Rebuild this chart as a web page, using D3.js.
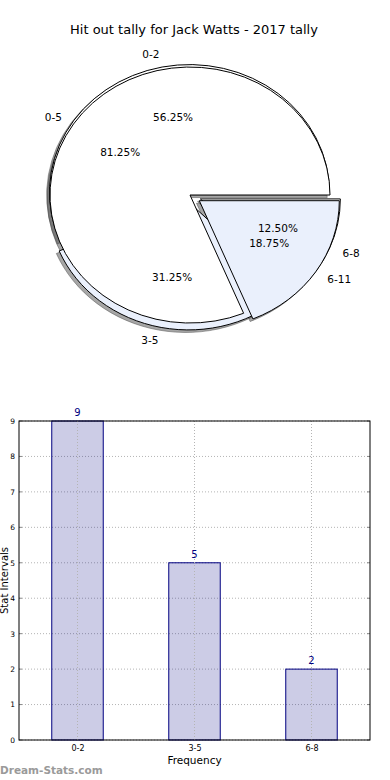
<!DOCTYPE html>
<html>
<head>
<meta charset="utf-8">
<script src="https://cdn.jsdelivr.net/npm/d3@7"></script>
<style>
  html, body { margin: 0; padding: 0; background: #ffffff; }
  svg { display: block; font-family: "DejaVu Sans", sans-serif; }
</style>
</head>
<body>
<svg id="chart"></svg>
<script>
// Data
const pieTitle = "Hit out tally for Jack Watts - 2017 tally";
const innerLabels = ["0-2", "3-5", "6-8"];
const innerValues = [9, 5, 2];
const outerLabels = ["0-5", "6-11"];
const outerValues = [13, 3];

const barCategories = ["0-2", "3-5", "6-8"];
const barValues = [9, 5, 2];
const yTicks = [0, 1, 2, 3, 4, 5, 6, 7, 8, 9];

// Style for the wedges (matplotlib-like explode + colour cycle)
const innerExplode = [0.02, 0.055, 0.08];
const outerExplode = [0, 0.08];
const wedgeColors = ["#ffffff", "#eaf0fc"];

const width = 390;
const height = 780;

const svg = d3.select("#chart")
    .attr("width", width)
    .attr("height", height)
    .attr("viewBox", [0, 0, width, height]);

// ---------- Pie part ----------
const cx = 190, cy = 195, rx = 140, ry = 128;

svg.append("text")
    .attr("x", 194)
    .attr("y", 34)
    .attr("text-anchor", "middle")
    .style("font-size", "13px")
    .text(pieTitle);

function layoutPie(values, labels, explode) {
    const total = d3.sum(values);
    const arcs = d3.pie().sort(null)
        .startAngle(Math.PI / 2)
        .endAngle(Math.PI / 2 - 2 * Math.PI)(values);
    return arcs.map((a, i) => {
        const mid = (a.startAngle + a.endAngle) / 2;
        const e = explode[i];
        return {
            ...a,
            label: labels[i],
            mid: mid,
            ex: Math.sin(mid) * e,     // offset in radius units
            ey: Math.cos(mid) * e,
            pct: a.value / total,
            color: wedgeColors[i % wedgeColors.length]
        };
    });
}

const innerPie = layoutPie(innerValues, innerLabels, innerExplode);
const outerPie = layoutPie(outerValues, outerLabels, outerExplode);
const allWedges = [...innerPie, ...outerPie];

const arcGen = d3.arc().innerRadius(0).outerRadius(1);
const pieGroup = svg.append("g");

// shadows first (they sit under every wedge)
pieGroup.selectAll(".shadow")
    .data(allWedges)
    .join("path")
    .attr("class", "shadow")
    .attr("d", arcGen)
    .attr("transform", d => `translate(${cx + (d.ex - 0.02) * rx},${cy - (d.ey - 0.02) * ry}) scale(${rx},${ry})`)
    .attr("fill", "rgba(77,77,77,0.5)")
    .attr("stroke", "rgba(77,77,77,0.5)")
    .attr("stroke-width", 1)
    .attr("vector-effect", "non-scaling-stroke");

pieGroup.selectAll(".wedge")
    .data(allWedges)
    .join("path")
    .attr("class", "wedge")
    .attr("d", arcGen)
    .attr("transform", d => `translate(${cx + d.ex * rx},${cy - d.ey * ry}) scale(${rx},${ry})`)
    .attr("fill", d => d.color)
    .attr("stroke", "#000000")
    .attr("stroke-width", 1)
    .attr("stroke-linejoin", "miter")
    .attr("vector-effect", "non-scaling-stroke");

// outer labels
pieGroup.selectAll(".plabel")
    .data(allWedges)
    .join("text")
    .attr("class", "plabel")
    .attr("x", d => cx + (d.ex + 1.1 * Math.sin(d.mid)) * rx)
    .attr("y", d => cy - (d.ey + 1.1 * Math.cos(d.mid)) * ry)
    .attr("text-anchor", d => (d.ex + 1.1 * Math.sin(d.mid)) > 0 ? "start" : "end")
    .attr("dominant-baseline", "central")
    .style("font-size", "10.5px")
    .text(d => d.label);

// percentages
pieGroup.selectAll(".pct")
    .data(allWedges)
    .join("text")
    .attr("class", "pct")
    .attr("x", d => cx + (d.ex + 0.6 * Math.sin(d.mid)) * rx)
    .attr("y", d => cy - (d.ey + 0.6 * Math.cos(d.mid)) * ry)
    .attr("text-anchor", "middle")
    .attr("dominant-baseline", "central")
    .style("font-size", "10.5px")
    .text(d => d3.format(".2f")(d.pct * 100) + "%");

// ---------- Bar part ----------
const plotLeft = 19, plotRight = 370, plotTop = 421, plotBottom = 740;

const x = d3.scaleLinear().domain([-0.5, 2.5]).range([plotLeft, plotRight]);
const y = d3.scaleLinear().domain([0, 9]).range([plotBottom, plotTop]);
const barW = 0.44;

const barGroup = svg.append("g");

// grid
barGroup.selectAll(".hgrid")
    .data(yTicks)
    .join("line")
    .attr("x1", plotLeft).attr("x2", plotRight)
    .attr("y1", d => y(d)).attr("y2", d => y(d))
    .attr("stroke", "#b4b4b4")
    .attr("stroke-width", 1)
    .attr("stroke-dasharray", "1,2");

// bars
barGroup.selectAll(".bar")
    .data(barValues)
    .join("rect")
    .attr("class", "bar")
    .attr("x", (d, i) => x(i - barW / 2))
    .attr("width", x(barW) - x(0))
    .attr("y", d => y(d))
    .attr("height", d => y(0) - y(d))
    .attr("fill", "rgba(0,0,128,0.2)")
    .attr("stroke", "#000080")
    .attr("stroke-width", 1);

// vertical grid drawn over the bars
barGroup.selectAll(".vgrid")
    .data(barCategories)
    .join("line")
    .attr("x1", (d, i) => x(i)).attr("x2", (d, i) => x(i))
    .attr("y1", plotTop).attr("y2", plotBottom)
    .attr("stroke", "#b4b4b4")
    .attr("stroke-width", 1)
    .attr("stroke-dasharray", "1,2");

// small inside ticks on the left and right spines
barGroup.selectAll(".ytickL")
    .data(yTicks)
    .join("line")
    .attr("x1", plotLeft).attr("x2", plotLeft + 3)
    .attr("y1", d => y(d)).attr("y2", d => y(d))
    .attr("stroke", "#888888");
barGroup.selectAll(".ytickR")
    .data(yTicks)
    .join("line")
    .attr("x1", plotRight - 3).attr("x2", plotRight)
    .attr("y1", d => y(d)).attr("y2", d => y(d))
    .attr("stroke", "#888888");

// value labels
barGroup.selectAll(".val")
    .data(barValues)
    .join("text")
    .attr("x", (d, i) => x(i))
    .attr("y", d => y(d) - 5)
    .attr("text-anchor", "middle")
    .attr("fill", "#000080")
    .style("font-size", "10px")
    .text(d => d);

// frame
barGroup.append("rect")
    .attr("x", plotLeft).attr("y", plotTop)
    .attr("width", plotRight - plotLeft).attr("height", plotBottom - plotTop)
    .attr("fill", "none")
    .attr("stroke", "#000000")
    .attr("stroke-width", 1);

// axes
const yAxis = d3.axisLeft(y).tickValues(yTicks).tickSize(0).tickPadding(4);
const yg = barGroup.append("g").attr("transform", `translate(${plotLeft},0)`).call(yAxis);
yg.select(".domain").remove();
yg.selectAll("text").style("font-size", "7.5px").attr("font-family", "DejaVu Sans");

const xAxis = d3.axisBottom(x).tickValues([0, 1, 2]).tickFormat(i => barCategories[i]).tickSize(0).tickPadding(5);
const xg = barGroup.append("g").attr("transform", `translate(0,${plotBottom})`).call(xAxis);
xg.select(".domain").remove();
xg.selectAll("text").style("font-size", "8px").attr("font-family", "DejaVu Sans");

svg.append("text")
    .attr("x", x(1))
    .attr("y", 764)
    .attr("text-anchor", "middle")
    .style("font-size", "10.5px")
    .text("Frequency");

svg.append("text")
    .attr("transform", `translate(8,${(plotTop + plotBottom) / 2}) rotate(-90)`)
    .attr("text-anchor", "middle")
    .style("font-size", "10px")
    .text("Stat Intervals");

svg.append("text")
    .attr("x", 0)
    .attr("y", 774)
    .attr("fill", "#9a9a9a")
    .style("font-size", "10.5px")
    .style("font-weight", "bold")
    .text("Dream-Stats.com");
</script>
</body>
</html>
